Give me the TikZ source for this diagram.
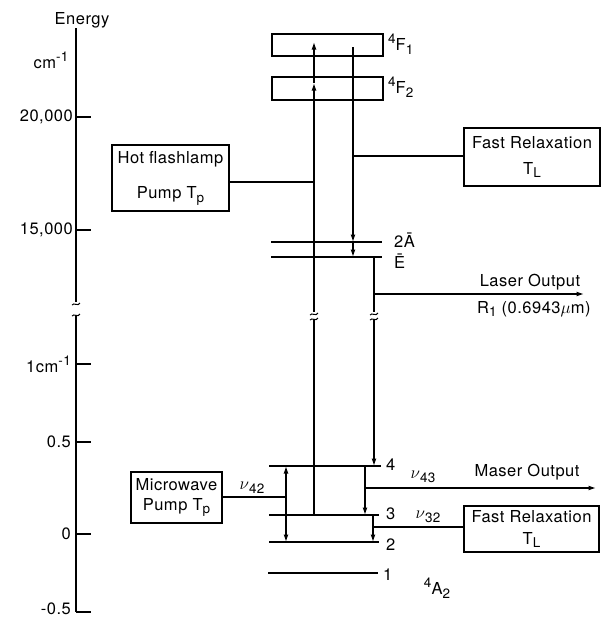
\documentclass[tikz,border=0pt]{standalone}
\usepackage{fontspec}
\setmainfont{TeX Gyre Heros}[LetterSpace=3]
\usetikzlibrary{arrows.meta}
\newcommand\lo[1]{\raisebox{-0.45ex}{\fontsize{13.5}{14}\selectfont #1}}
\newcommand\hi[1]{\raisebox{0.8ex}{\fontsize{13.5}{14}\selectfont #1}}
\begin{document}
\begin{tikzpicture}[x=1pt,y=-1pt,font=\fontsize{16.5}{20}\selectfont,
  lw/.style={line width=1.3pt},
  lvl/.style={line width=2pt},
  box/.style={draw,line width=1.3pt,inner sep=0pt},
  arr/.style={lw,-{Latex[length=7.5pt,width=5pt]}},
  darr/.style={lw,{Latex[length=7.5pt,width=5pt]}-{Latex[length=7.5pt,width=5pt]}},
  lab/.style={inner sep=0pt},
  brk/.pic={\draw[line width=1pt] (-4,1) .. controls (-2,-2) and (2,3) .. (4,-1);}]
\useasboundingbox (0,0) rectangle (611,619);

% energy axis
\coordinate (axT) at (76,28);
\coordinate (axU) at (76,302);
\coordinate (axL) at (76,316);
\coordinate (axB) at (76,612);
\draw[lw] (axT) -- (axU);
\draw[lw] (axL) -- (axB);
\pic at (76,304) {brk};
\pic at (76,315) {brk};
\foreach \n/\y in {a/117,b/230,c/364,d/442,e/534,f/612}{
  \coordinate (t\n) at (76,\y);
  \coordinate (u\n) at (91,\y);
  \draw[lw] (t\n) -- (u\n);
}
\node[lab] (energy) at (82,20) {Energy};
\node[lab] (cm) at (51,60) {cm\hi{-1}};
\node[lab,anchor=east] (l20) at (73,117) {20,000};
\node[lab,anchor=east] (l15) at (73,230) {15,000};
\node[lab,anchor=east] (l1) at (71,364) {1cm\hi{-1}};
\node[lab,anchor=east] (l05) at (71,442) {0.5};
\node[lab,anchor=east] (l0) at (71,534) {0};
\node[lab,anchor=east] (lm05) at (71,609) {-0.5};

% upper bands
\node[box,minimum width=111,minimum height=22] (F1) at (327.5,45) {};
\node[box,minimum width=111,minimum height=23] (F2) at (327.5,88.5) {};
\node[lab,anchor=west] (F1l) at (388,44) {\hi{4}F\lo{1}};
\node[lab,anchor=west] (F2l) at (388,87) {\hi{4}F\lo{2}};

% levels 2A and E
\coordinate (Aa) at (271,242); \coordinate (Ab) at (382,242);
\coordinate (Ea) at (271,257); \coordinate (Eb) at (382,257);
\draw[lvl] (Aa) -- (Ab);
\draw[lvl] (Ea) -- (Eb);
\node[lab,anchor=west] (Al) at (394,240) {2Ā};
\node[lab,anchor=west] (El) at (394,261) {Ē};

% ground-state levels
\coordinate (L4a) at (269,466); \coordinate (L4b) at (381,466);
\coordinate (L3a) at (269,515); \coordinate (L3b) at (379,515);
\coordinate (L2a) at (269,542); \coordinate (L2b) at (379,542);
\coordinate (L1a) at (268,573); \coordinate (L1b) at (378,573);
\draw[lvl] (L4a) -- (L4b);
\draw[lvl] (L3a) -- (L3b);
\draw[lvl] (L2a) -- (L2b);
\draw[lvl] (L1a) -- (L1b);
\node[lab,anchor=west] (n4) at (386,465) {4};
\node[lab,anchor=west] (n3) at (386,514) {3};
\node[lab,anchor=west] (n2) at (386,545) {2};
\node[lab,anchor=west] (n1) at (383,575) {1};
\node[lab] (A2) at (437,588) {\hi{4}A\lo{2}};

% optical pump line
\coordinate (pB) at (314,515);
\coordinate (pLo) at (314,320);
\coordinate (pHi) at (314,312);
\coordinate (pF2) at (314,83);
\coordinate (pF1) at (314,42);
\draw[lw] (pB) -- (pLo);
\draw[arr] (pHi) -- (pF2);
\draw[arr] (pF2) -- (pF1);
\pic at (314,314) {brk};
\pic at (314,319) {brk};

% fast relaxation line
\coordinate (rT) at (353,47);
\coordinate (rA) at (353,242);
\coordinate (rE) at (353,257);
\draw[arr] (rT) -- (rA);
\draw[arr] (rA) -- (rE);

% laser line
\coordinate (sT) at (374,257);
\coordinate (sHi) at (374,312);
\coordinate (sLo) at (374,320);
\coordinate (s4) at (374,466);
\coordinate (sOut) at (374,294);
\coordinate (laserEnd) at (584,294);
\draw[lw] (sT) -- (sHi);
\draw[arr] (sLo) -- (s4);
\pic at (374,314) {brk};
\pic at (374,319) {brk};
\draw[arr] (sOut) -- (laserEnd);
\node[lab] (laser) at (530,282) {Laser Output};
\node[lab,anchor=west] (R1) at (477,309) {R\lo{1} (0.6943$\mu$m)};

% boxes and their connectors (upper)
\node[box,minimum width=117,minimum height=66,align=center] (hot) at (170.5,178)
  {Hot flashlamp\\[15pt]Pump T\lo{p}};
\coordinate (pHot) at (314,182);
\draw[lw] (hot.east |- pHot) -- (pHot);
\node[box,minimum width=136,minimum height=58,align=center] (fr1) at (532,157)
  {Fast Relaxation\\[6pt]T\lo{L}};
\coordinate (rFr) at (353,156);
\draw[lw] (fr1.west |- rFr) -- (rFr);

% microwave part
\coordinate (m4) at (286,466);
\coordinate (m2) at (286,542);
\draw[darr] (m4) -- (m2);
\node[box,minimum width=91,minimum height=51,align=center] (mw) at (176.5,497.5)
  {Microwave\\[0pt]Pump T\lo{p}};
\coordinate (mC) at (286,497);
\draw[lw] (mw.east |- mC) -- (mC);
\node[lab] (nu42) at (252,488) {$\nu$\lo{42}};

\coordinate (a4) at (365,466);
\coordinate (a3) at (365,515);
\draw[arr] (a4) -- (a3);
\coordinate (mOut) at (365,488);
\coordinate (maserEnd) at (596,488);
\draw[arr] (mOut) -- (maserEnd);
\node[lab] (maser) at (527,472) {Maser Output};
\node[lab] (nu43) at (423,477) {$\nu$\lo{43}};

\coordinate (b3) at (373,515);
\coordinate (b2) at (373,542);
\draw[arr] (b3) -- (b2);
\node[box,minimum width=135,minimum height=46,align=center] (fr2) at (531.5,529)
  {Fast Relaxation\\[2pt]T\lo{L}};
\coordinate (bC) at (373,527);
\draw[lw] (bC) -- (fr2.west |- bC);
\node[lab] (nu32) at (428,517) {$\nu$\lo{32}};
\end{tikzpicture}
\end{document}
